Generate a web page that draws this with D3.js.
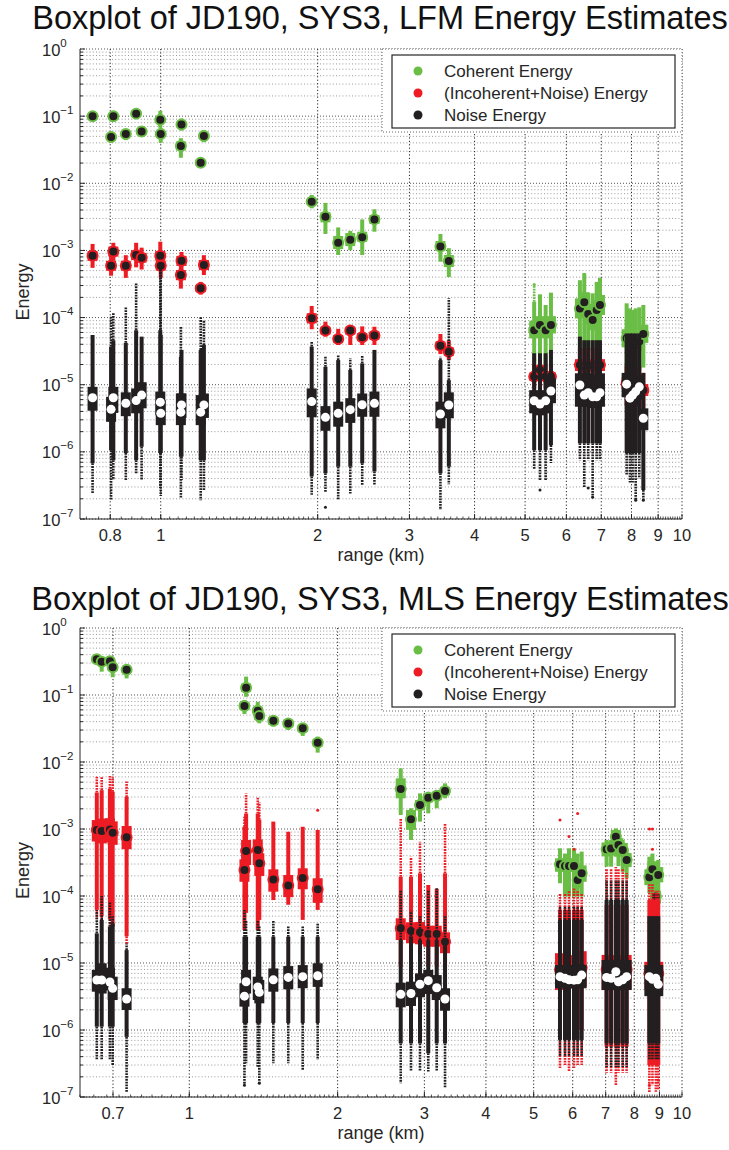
<!DOCTYPE html>
<html><head><meta charset="utf-8">
<script src="https://cdn.jsdelivr.net/npm/d3@7"></script>
<style>
body{margin:0;background:#fff}
svg{display:block}
text{font-family:"Liberation Sans",Arial,Helvetica,sans-serif;fill:#262626}
</style>
</head><body><svg id="c" width="729" height="1150"></svg>
<script>
// ---------------- DATA ----------------
const seriesNames = ["Coherent Energy", "(Incoherent+Noise) Energy", "Noise Energy"];
const seriesColors = ["#6abd45", "#ed1c24", "#231f20"];
const lfmTitle = "Boxplot of JD190, SYS3, LFM Energy Estimates";
const mlsTitle = "Boxplot of JD190, SYS3, MLS Energy Estimates";
const lfmXTicks = [0.8, 1, 2, 3, 4, 5, 6, 7, 8, 9, 10];
const mlsXTicks = [0.7, 1, 2, 3, 4, 5, 6, 7, 8, 9, 10];
const yDecades = [0, -1, -2, -3, -4, -5, -6, -7];

// box stats per box: [whiskerLo, q1, median, q3, whiskerHi, outlierLo, outlierHi]
const lfmRange = [0.740, 0.803, 0.811, 0.857, 0.897, 0.919, 0.998, 1.0, 1.093, 1.096, 1.193, 1.21,
  1.948, 2.07, 2.19, 2.31, 2.435, 2.57, 3.44, 3.57,
  5.205, 5.34, 5.475, 5.605,
  6.37, 6.494, 6.608, 6.739, 6.86, 6.96,
  7.83, 7.945, 8.04, 8.15, 8.28, 8.43];

const lfmCoherent = [
  [0.084, 0.09, 0.1, 0.111, 0.118, null, null],
  [0.040, 0.044, 0.049, 0.054, 0.058, null, null],
  [0.083, 0.09, 0.1, 0.11, 0.12, null, null],
  [0.044, 0.049, 0.054, 0.06, 0.064, null, null],
  [0.094, 0.099, 0.109, 0.12, 0.125, null, null],
  [0.049, 0.053, 0.059, 0.065, 0.07, null, null],
  [0.067, 0.079, 0.088, 0.097, 0.12, null, null],
  [0.040, 0.049, 0.054, 0.06, 0.066, null, null],
  [0.024, 0.031, 0.036, 0.042, 0.047, null, null],
  [0.061, 0.068, 0.075, 0.083, 0.092, null, null],
  [0.017, 0.0185, 0.0203, 0.0225, 0.024, null, null],
  [0.041, 0.046, 0.0506, 0.056, 0.062, null, null],
  [4.24e-3, 4.8e-3, 5.3e-3, 5.9e-3, 6.7e-3, null, null],
  [1.76e-3, 2.62e-3, 3.18e-3, 3.7e-3, 5.1e-3, null, null],
  [8.55e-4, 1.05e-3, 1.30e-3, 1.64e-3, 2.2e-3, null, null],
  [1.01e-3, 1.16e-3, 1.44e-3, 1.82e-3, 1.95e-3, null, null],
  [8.55e-4, 1.35e-3, 1.57e-3, 1.9e-3, 2.9e-3, null, null],
  [1.9e-3, 2.48e-3, 2.9e-3, 3.37e-3, 4.1e-3, null, null],
  [6.8e-4, 9.8e-4, 1.14e-3, 1.38e-3, 1.76e-3, null, null],
  [4.0e-4, 5.66e-4, 6.96e-4, 8.55e-4, 1.08e-3, null, null],
  [1.85e-5, 4.9e-5, 6.5e-5, 9.0e-5, 1.72e-4, null, 3.1e-4],
  [2.33e-5, 5.8e-5, 7.75e-5, 1.05e-4, 2.22e-4, null, null],
  [1.85e-5, 4.9e-5, 6.5e-5, 9.0e-5, 1.54e-4, null, null],
  [2.33e-5, 5.8e-5, 7.75e-5, 1.05e-4, 2.35e-4, null, null],
  [3.3e-5, 9.7e-5, 1.37e-4, 1.93e-4, 3.6e-4, null, null],
  [3.3e-5, 1.2e-4, 1.69e-4, 2.38e-4, 4.6e-4, null, null],
  [3.3e-5, 8.0e-5, 1.13e-4, 1.6e-4, 2.35e-4, null, null],
  [3.3e-5, 6.5e-5, 9.2e-5, 1.3e-4, 2.3e-4, null, null],
  [3.3e-5, 9.2e-5, 1.3e-4, 1.83e-4, 3.4e-4, null, null],
  [3.3e-5, 1.09e-4, 1.54e-4, 2.17e-4, 3.9e-4, null, null],
  [1.5e-5, 3.6e-5, 4.9e-5, 6.7e-5, 1.63e-4, null, null],
  [1.6e-5, 3.5e-5, 4.8e-5, 6.5e-5, 1.37e-4, null, null],
  [1.6e-5, 3.3e-5, 4.5e-5, 6.1e-5, 1.3e-4, null, null],
  [1.6e-5, 2.9e-5, 3.9e-5, 5.3e-5, 1.37e-4, null, null],
  [1.6e-5, 3.2e-5, 4.4e-5, 6.0e-5, 1.42e-4, null, null],
  [1.8e-5, 4.2e-5, 5.7e-5, 7.8e-5, 1.54e-4, null, null]
];

const lfmIncoherent = [
  [5.5e-4, 7.0e-4, 8.3e-4, 9.8e-4, 1.25e-3, null, null],
  [4.2e-4, 5.0e-4, 5.9e-4, 7.0e-4, 8.5e-4, null, null],
  [7.0e-4, 8.1e-4, 9.6e-4, 1.14e-3, 1.3e-3, null, null],
  [3.9e-4, 5.0e-4, 5.9e-4, 7.0e-4, 8.5e-4, null, null],
  [5.6e-4, 7.2e-4, 8.55e-4, 1.0e-3, 1.3e-3, null, null],
  [5.2e-4, 6.6e-4, 7.8e-4, 9.2e-4, 1.1e-3, null, null],
  [6.0e-4, 7.0e-4, 8.3e-4, 9.8e-4, 1.35e-3, null, null],
  [3.9e-4, 5.0e-4, 5.9e-4, 7.0e-4, 8.0e-4, null, null],
  [2.7e-4, 3.6e-4, 4.3e-4, 5.1e-4, 6.0e-4, null, null],
  [5.0e-4, 5.9e-4, 7.0e-4, 8.3e-4, 9.5e-4, null, null],
  [2.2e-4, 2.4e-4, 2.73e-4, 3.1e-4, 3.4e-4, null, null],
  [4.3e-4, 5.1e-4, 6.07e-4, 7.2e-4, 8.5e-4, null, null],
  [6.7e-5, 8.2e-5, 9.75e-5, 1.16e-4, 1.49e-4, null, null],
  [5.2e-5, 5.6e-5, 6.4e-5, 7.3e-5, 8.7e-5, null, null],
  [3.9e-5, 4.2e-5, 4.8e-5, 5.5e-5, 6.8e-5, null, null],
  [3.9e-5, 5.6e-5, 6.4e-5, 7.3e-5, 7.5e-5, null, null],
  [3.9e-5, 4.5e-5, 5.1e-5, 5.9e-5, 7.4e-5, null, null],
  [3.9e-5, 4.7e-5, 5.4e-5, 6.2e-5, 7.3e-5, null, null],
  [2.86e-5, 3.3e-5, 3.8e-5, 4.4e-5, 5.7e-5, null, null],
  [2.33e-5, 2.7e-5, 3.1e-5, 3.6e-5, 4.6e-5, null, null],
  [8.8e-6, 1.15e-5, 1.32e-5, 1.52e-5, 2.0e-5, null, null],
  [1.1e-5, 1.45e-5, 1.66e-5, 1.9e-5, 2.5e-5, null, null],
  [8.8e-6, 1.15e-5, 1.32e-5, 1.52e-5, 2.0e-5, null, null],
  [8.8e-6, 1.15e-5, 1.32e-5, 1.52e-5, 2.0e-5, null, null],
  [1.0e-5, 1.6e-5, 1.97e-5, 2.4e-5, 3.5e-5, null, null],
  [1.0e-5, 1.55e-5, 1.9e-5, 2.35e-5, 3.5e-5, null, null],
  [1.0e-5, 1.57e-5, 1.93e-5, 2.37e-5, 3.5e-5, null, null],
  [1.0e-5, 1.57e-5, 1.93e-5, 2.37e-5, 3.5e-5, null, null],
  [1.0e-5, 1.6e-5, 1.97e-5, 2.4e-5, 3.5e-5, null, null],
  [1.0e-5, 1.6e-5, 1.97e-5, 2.4e-5, 3.5e-5, null, null],
  [5.0e-6, 8.5e-6, 1.05e-5, 1.3e-5, 1.9e-5, null, null],
  [5.0e-6, 8.2e-6, 1.0e-5, 1.25e-5, 1.9e-5, null, null],
  [5.0e-6, 8.2e-6, 1.0e-5, 1.25e-5, 1.9e-5, null, null],
  [5.0e-6, 8.2e-6, 1.0e-5, 1.25e-5, 1.9e-5, null, null],
  [5.0e-6, 8.2e-6, 1.0e-5, 1.25e-5, 1.9e-5, null, null],
  [4.5e-6, 6.8e-6, 8.3e-6, 1.02e-5, 1.5e-5, null, null]
];

const lfmNoise = [
  [6.75e-7, 4.1e-6, 6.4e-6, 9.3e-6, 5.5e-5, 2.4e-7, null],
  [1.06e-6, 2.8e-6, 4.3e-6, 6.6e-6, 3.7e-5, 1.9e-7, 1.03e-4],
  [7.5e-7, 3.8e-6, 6.4e-6, 9.3e-6, 4.6e-5, 3.8e-7, 1.17e-4],
  [9.6e-7, 3.4e-6, 5.3e-6, 7.7e-6, 4.2e-5, 3.8e-7, 1.45e-4],
  [7.5e-7, 3.75e-6, 5.8e-6, 8.8e-6, 6.5e-5, 4.8e-7, 3.3e-4],
  [1.19e-6, 4.45e-6, 7.0e-6, 1.09e-5, 5.2e-5, 3.8e-7, null],
  [9.6e-7, 3.5e-6, 5.5e-6, 7.9e-6, 6.5e-5, 2.9e-7, 5.7e-4],
  [9.6e-7, 2.5e-6, 3.75e-6, 5.9e-6, 5.5e-5, 2.2e-7, 5.7e-4],
  [8.5e-7, 2.5e-6, 3.9e-6, 7.4e-6, 2.6e-5, 2.05e-7, 7.3e-5],
  [8.5e-7, 3.2e-6, 5.0e-6, 7.4e-6, 3.3e-5, 3.8e-7, null],
  [7.5e-7, 2.5e-6, 3.9e-6, 7.0e-6, 3.3e-5, 1.9e-7, 1.03e-4],
  [7.5e-7, 3.2e-6, 5.0e-6, 7.4e-6, 3.9e-5, 2.7e-7, 9.2e-5],
  [4.3e-7, 3.27e-6, 5.6e-6, 8.8e-6, 3.7e-5, 2.3e-7, 4.4e-5],
  [4.8e-7, 2.06e-6, 3.27e-6, 4.8e-6, 1.85e-5, 2.55e-7, 2.6e-5],
  [6.0e-7, 2.37e-6, 3.75e-6, 5.6e-6, 2.33e-5, 1.96e-7, 2.77e-5],
  [6.0e-7, 2.7e-6, 4.25e-6, 6.3e-6, 1.66e-5, 2.4e-7, 2.47e-5],
  [6.75e-7, 3.33e-6, 5.03e-6, 7.4e-6, 2.08e-5, 3.2e-7, 2.77e-5],
  [5.1e-7, 3.33e-6, 5.28e-6, 7.9e-6, 3.3e-5, 3.2e-7, null],
  [4.8e-7, 2.24e-6, 3.66e-6, 5.6e-6, 2.33e-5, 1.36e-7, 2.6e-5],
  [6.0e-7, 3.16e-6, 4.98e-6, 7.7e-6, 1.17e-5, 3.3e-7, 1.94e-4],
  [1.06e-6, 3.75e-6, 5.78e-6, 8.3e-6, 2.94e-5, 5.4e-7, null],
  [1.06e-6, 3.5e-6, 5.16e-6, 7.9e-6, 2.94e-5, 3.8e-7, null],
  [1.06e-6, 3.75e-6, 5.78e-6, 8.3e-6, 2.94e-5, 3.8e-7, null],
  [1.26e-6, 5.3e-6, 8.05e-6, 1.25e-5, 3.3e-5, 6.8e-7, null],
  [1.34e-6, 4.7e-6, 9.9e-6, 1.48e-5, 5.2e-5, 7.5e-7, null],
  [1.34e-6, 4.7e-6, 7.0e-6, 1.48e-5, 4.6e-5, 2.9e-7, null],
  [1.34e-6, 4.7e-6, 7.6e-6, 1.48e-5, 4.6e-5, 7.5e-7, null],
  [1.34e-6, 4.5e-6, 6.6e-6, 1.4e-5, 4.6e-5, 2.1e-7, null],
  [1.34e-6, 4.5e-6, 6.6e-6, 1.4e-5, 4.6e-5, 7.5e-7, null],
  [1.34e-6, 4.7e-6, 7.6e-6, 1.48e-5, 4.6e-5, 7.5e-7, null],
  [9.6e-7, 6.5e-6, 1.02e-5, 1.5e-5, 5.8e-5, 4.5e-7, null],
  [9.6e-7, 4.3e-6, 6.3e-6, 9.5e-6, 5.8e-5, 3.5e-7, null],
  [9.6e-7, 4.7e-6, 7.0e-6, 1.05e-5, 5.8e-5, 3.5e-7, null],
  [9.6e-7, 5.2e-6, 7.9e-6, 1.2e-5, 5.8e-5, 1.9e-7, null],
  [9.6e-7, 6.0e-6, 9.3e-6, 1.4e-5, 5.8e-5, 4.0e-7, null],
  [2.7e-7, 2.1e-6, 3.16e-6, 4.45e-6, 1.5e-5, 1.9e-7, null]
];

// isolated outliers: [range, value, seriesIndex]
const lfmIsolated = [
  [2.07, 1.5e-7, 2], [5.34, 2.7e-7, 2], [6.608, 2.9e-7, 2], [6.739, 2.1e-7, 2],
  [8.15, 1.9e-7, 2], [8.43, 1.9e-7, 2], [5.205, 3.1e-4, 0]
];

const mlsRange = [0.649, 0.664, 0.69, 0.699, 0.746,
  1.294, 1.304, 1.377, 1.387, 1.481, 1.588, 1.699, 1.822,
  2.686, 2.818, 2.939, 3.055, 3.178, 3.304,
  5.654, 5.788, 5.898, 6.036, 6.14, 6.257,
  7.03, 7.18, 7.34, 7.43, 7.58, 7.72,
  8.585, 8.71, 8.85, 8.95];

const mlsCoherent = [
  [0.29, 0.31, 0.341, 0.37, 0.38, null, null],
  [0.223, 0.29, 0.314, 0.34, 0.35, null, null],
  [0.27, 0.29, 0.32, 0.35, 0.36, null, null],
  [0.184, 0.23, 0.259, 0.29, 0.31, null, null],
  [0.177, 0.215, 0.239, 0.26, 0.27, null, null],
  [0.052, 0.06, 0.0685, 0.078, 0.084, null, null],
  [0.094, 0.112, 0.1285, 0.148, 0.188, null, null],
  [0.05, 0.051, 0.0583, 0.067, 0.079, null, null],
  [0.0378, 0.042, 0.0486, 0.056, 0.06, null, null],
  [0.034, 0.036, 0.0413, 0.047, 0.048, null, null],
  [0.030, 0.033, 0.0377, 0.043, 0.045, null, null],
  [0.0245, 0.028, 0.0318, 0.036, 0.037, null, null],
  [0.0138, 0.017, 0.0194, 0.022, 0.0239, null, null],
  [1.62e-3, 2.87e-3, 3.95e-3, 5.7e-3, 8.05e-3, null, null],
  [6.85e-4, 9.7e-4, 1.4e-3, 1.92e-3, 2.04e-3, null, null],
  [1.29e-3, 1.9e-3, 2.28e-3, 2.7e-3, 3.4e-3, null, null],
  [1.71e-3, 2.5e-3, 2.93e-3, 3.4e-3, 3.6e-3, null, null],
  [2.04e-3, 2.7e-3, 3.14e-3, 3.6e-3, 3.8e-3, null, null],
  [2.87e-3, 3.2e-3, 3.69e-3, 4.2e-3, 4.8e-3, null, null],
  [1.55e-4, 2.3e-4, 2.97e-4, 3.65e-4, 5.15e-4, null, null],
  [9.8e-5, 2.3e-4, 2.8e-4, 3.65e-4, 4.3e-4, null, null],
  [9.8e-5, 2.3e-4, 2.8e-4, 3.65e-4, 5.15e-4, null, null],
  [9.8e-5, 2.3e-4, 2.8e-4, 3.65e-4, 5.15e-4, null, null],
  [9.8e-5, 1.3e-4, 1.73e-4, 2.4e-4, 4.3e-4, null, null],
  [9.8e-5, 1.63e-4, 2.18e-4, 2.86e-4, 4.6e-4, null, null],
  [2.74e-4, 3.9e-4, 4.98e-4, 6.3e-4, 6.85e-4, null, null],
  [2.74e-4, 4.0e-4, 5.1e-4, 6.5e-4, 6.85e-4, null, null],
  [3.86e-4, 6.0e-4, 7.67e-4, 9.7e-4, 1.02e-3, null, null],
  [2.8e-4, 4.5e-4, 5.77e-4, 7.3e-4, 8.1e-4, null, null],
  [2.3e-4, 3.8e-4, 4.86e-4, 6.2e-4, 6.85e-4, null, null],
  [1.84e-4, 2.7e-4, 3.45e-4, 4.4e-4, 5.15e-4, null, null],
  [1.1e-4, 1.45e-4, 1.9e-4, 2.5e-4, 3.86e-4, null, null],
  [1.1e-4, 1.9e-4, 2.5e-4, 3.3e-4, 4.3e-4, null, null],
  [5.0e-5, 7.7e-5, 9.8e-5, 1.2e-4, 2.18e-4, null, null],
  [1.1e-4, 1.6e-4, 2.06e-4, 2.7e-4, 3.45e-4, null, null]
];

const mlsIncoherent = [
  [6.2e-5, 6.5e-4, 9.66e-4, 1.36e-3, 3.5e-3, 4.5e-5, 6.0e-3],
  [5.0e-5, 6.1e-4, 9.3e-4, 1.43e-3, 3.8e-3, 3.5e-5, 6.0e-3],
  [4.5e-5, 6.3e-4, 9.8e-4, 1.45e-3, 4.0e-3, 3.0e-5, 6.2e-3],
  [3.5e-5, 5.8e-4, 8.8e-4, 1.3e-3, 3.6e-3, 2.4e-5, 6.0e-3],
  [2.5e-5, 5.0e-4, 7.5e-4, 1.11e-3, 3.0e-3, 1.9e-5, 5.1e-3],
  [3.1e-5, 1.63e-4, 2.44e-4, 3.53e-4, 1.08e-3, null, 1.53e-3],
  [5.6e-5, 2.9e-4, 4.7e-4, 6.85e-4, 1.7e-3, null, 3.4e-3],
  [3.1e-5, 2.9e-4, 4.86e-4, 7.0e-4, 1.7e-3, null, 3.0e-3],
  [4.4e-5, 1.99e-4, 3.08e-4, 4.34e-4, 1.38e-3, null, 2.5e-3],
  [8.7e-5, 1.16e-4, 1.77e-4, 2.5e-4, 1.29e-3, null, null],
  [7.4e-5, 9.6e-5, 1.43e-4, 2.06e-4, 9.1e-4, null, null],
  [4.4e-5, 1.26e-4, 1.86e-4, 2.59e-4, 1.08e-3, null, null],
  [6.2e-5, 7.9e-5, 1.26e-4, 1.84e-4, 9.7e-4, null, null],
  [8.8e-6, 2.2e-5, 3.3e-5, 4.65e-5, 1.94e-4, null, 1.44e-3],
  [8.8e-6, 1.97e-5, 3.0e-5, 4.05e-5, 1.94e-4, null, 3.86e-4],
  [8.8e-6, 1.9e-5, 2.87e-5, 4.1e-5, 2.18e-4, null, 6.46e-4],
  [8.8e-6, 1.75e-5, 2.7e-5, 3.6e-5, 1.46e-4, null, null],
  [8.8e-6, 1.75e-5, 2.7e-5, 3.6e-5, 1.28e-4, null, null],
  [8.8e-6, 1.4e-5, 2.08e-5, 2.87e-5, 2.18e-4, null, 1.22e-3],
  [1.0e-6, 3.95e-6, 7.9e-6, 1.4e-5, 6.2e-5, 2.7e-7, 1.1e-4],
  [1.0e-6, 4.2e-6, 8.0e-6, 1.3e-5, 6.2e-5, 3.0e-7, 1.1e-4],
  [1.0e-6, 4.2e-6, 8.0e-6, 1.3e-5, 6.2e-5, 2.4e-7, 1.2e-4],
  [1.0e-6, 4.2e-6, 7.5e-6, 1.3e-5, 6.2e-5, 2.7e-7, 1.3e-4],
  [1.0e-6, 4.2e-6, 8.0e-6, 1.3e-5, 6.2e-5, 3.0e-7, 1.2e-4],
  [1.0e-6, 4.5e-6, 8.5e-6, 1.5e-5, 6.2e-5, 3.0e-7, 1.1e-4],
  [5.6e-7, 3.95e-6, 8.0e-6, 1.32e-5, 7.4e-5, 2.3e-7, 2.5e-4],
  [5.6e-7, 3.95e-6, 8.0e-6, 1.3e-5, 7.4e-5, 2.3e-7, 2.5e-4],
  [5.6e-7, 3.95e-6, 8.5e-6, 1.3e-5, 7.4e-5, 1.5e-7, 2.7e-4],
  [5.6e-7, 3.95e-6, 8.0e-6, 1.3e-5, 7.4e-5, 2.3e-7, 2.5e-4],
  [5.6e-7, 3.95e-6, 8.0e-6, 1.3e-5, 7.4e-5, 2.3e-7, 2.5e-4],
  [5.6e-7, 4.0e-6, 8.0e-6, 1.32e-5, 7.4e-5, 2.3e-7, 2.2e-4],
  [3.0e-7, 3.95e-6, 7.0e-6, 1.04e-5, 8.7e-5, 1.15e-7, 1.5e-4],
  [3.0e-7, 3.95e-6, 7.0e-6, 1.04e-5, 8.7e-5, 1.5e-7, 1.5e-4],
  [3.0e-7, 3.95e-6, 7.0e-6, 1.04e-5, 8.7e-5, 1.2e-7, 1.2e-4],
  [3.0e-7, 3.95e-6, 7.0e-6, 1.04e-5, 8.7e-5, 1.3e-7, 1.2e-4]
];

const mlsNoise = [
  [1.12e-6, 3.73e-6, 5.57e-6, 7.9e-6, 2.77e-5, 3.56e-7, 6.2e-5],
  [1.12e-6, 3.5e-6, 5.57e-6, 9.9e-6, 4.4e-5, 3.56e-7, 1.0e-4],
  [1.12e-6, 3.9e-6, 5.2e-6, 8.5e-6, 3.5e-5, 3.56e-7, 8.0e-5],
  [1.12e-6, 2.8e-6, 4.19e-6, 6.25e-6, 3.9e-5, 3.0e-7, 5.0e-5],
  [7.9e-7, 1.99e-6, 2.9e-6, 4.2e-6, 1.56e-5, 1.2e-7, 1.95e-5],
  [1.27e-6, 2.23e-6, 3.2e-6, 4.98e-6, 2.47e-5, 1.5e-7, 6.2e-5],
  [1.27e-6, 3.5e-6, 5.26e-6, 7.9e-6, 2.47e-5, 3.2e-7, 4.4e-5],
  [1.27e-6, 2.8e-6, 4.4e-6, 6.25e-6, 2.47e-5, 2.8e-7, 4.4e-5],
  [1.27e-6, 2.5e-6, 3.65e-6, 5.6e-6, 2.47e-5, 1.6e-7, 3.5e-5],
  [1.27e-6, 3.73e-6, 5.6e-6, 8.3e-6, 2.47e-5, 3.2e-7, 4.4e-5],
  [1.27e-6, 4.05e-6, 6.1e-6, 9.0e-6, 2.47e-5, 3.2e-7, 3.5e-5],
  [1.27e-6, 4.2e-6, 6.25e-6, 9.3e-6, 2.47e-5, 2.5e-7, 3.5e-5],
  [1.27e-6, 4.4e-6, 6.46e-6, 9.9e-6, 2.47e-5, 3.6e-7, 4.0e-5],
  [6.3e-7, 2.18e-6, 3.41e-6, 5.08e-6, 2.2e-5, 1.6e-7, 1.2e-4],
  [6.3e-7, 2.28e-6, 3.5e-6, 5.26e-6, 2.5e-5, 2.4e-7, 6.0e-5],
  [6.3e-7, 3.08e-6, 4.81e-6, 7.0e-6, 2.2e-5, 2.4e-7, 5.0e-5],
  [4.5e-7, 3.44e-6, 5.45e-6, 7.9e-6, 2.2e-5, 2.4e-7, 1.2e-4],
  [6.3e-7, 2.8e-6, 4.28e-6, 6.6e-6, 2.2e-5, 2.4e-7, 1.3e-4],
  [6.3e-7, 1.94e-6, 2.9e-6, 4.2e-6, 2.2e-5, 1.37e-7, 5.0e-5],
  [7.1e-7, 4.2e-6, 6.25e-6, 9.3e-6, 4.4e-5, 4.0e-7, 7.0e-5],
  [7.1e-7, 4.2e-6, 5.9e-6, 9.3e-6, 4.4e-5, 4.0e-7, 7.0e-5],
  [7.1e-7, 4.2e-6, 5.6e-6, 9.3e-6, 4.4e-5, 4.0e-7, 7.0e-5],
  [7.1e-7, 4.2e-6, 5.55e-6, 9.3e-6, 4.4e-5, 4.0e-7, 7.0e-5],
  [7.1e-7, 4.2e-6, 5.6e-6, 9.3e-6, 4.4e-5, 4.0e-7, 7.0e-5],
  [7.1e-7, 4.2e-6, 6.6e-6, 9.3e-6, 4.4e-5, 4.0e-7, 7.0e-5],
  [6.3e-7, 3.95e-6, 6.1e-6, 1.11e-5, 8.7e-5, 2.8e-7, 1.74e-4],
  [6.3e-7, 3.95e-6, 5.9e-6, 1.11e-5, 8.7e-5, 2.8e-7, 1.74e-4],
  [6.3e-7, 3.95e-6, 7.4e-6, 1.11e-5, 8.7e-5, 2.8e-7, 1.74e-4],
  [6.3e-7, 3.95e-6, 5.26e-6, 1.11e-5, 8.7e-5, 2.8e-7, 1.74e-4],
  [6.3e-7, 3.95e-6, 5.6e-6, 1.11e-5, 8.7e-5, 2.8e-7, 1.74e-4],
  [6.3e-7, 3.95e-6, 6.25e-6, 1.11e-5, 8.7e-5, 2.8e-7, 1.74e-4],
  [6.3e-7, 3.2e-6, 6.25e-6, 9.3e-6, 5.0e-5, 3.6e-7, null],
  [6.3e-7, 3.2e-6, 5.7e-6, 9.3e-6, 5.0e-5, 3.6e-7, null],
  [6.3e-7, 3.2e-6, 5.9e-6, 9.3e-6, 5.0e-5, 3.6e-7, null],
  [6.3e-7, 3.2e-6, 4.8e-6, 9.3e-6, 5.0e-5, 3.6e-7, null]
];

const mlsIsolated = [
  [1.822, 1.9e-3, 1], [5.654, 1.36e-3, 1], [6.14, 1.71e-3, 1], [5.898, 7.7e-4, 1],
  [6.036, 5.0e-4, 1], [8.585, 1.0e-3, 1], [8.71, 1.0e-3, 1], [8.71, 5.0e-4, 1],
  [1.294, 1.5e-7, 2], [1.387, 1.6e-7, 2], [8.585, 1.5e-7, 1], [8.95, 1.8e-7, 1]
];

// ---------------- DRAWING ----------------
const svg = d3.select("#c");
const L = 80, R = 682;

function drawChart(cfg) {
  const g = svg.append("g");
  const x = d3.scaleLog().domain(cfg.xDomain).range([L, R]);
  const y = d3.scaleLog().domain([1e-7, 1]).range([cfg.bottom, cfg.top]);

  // title
  g.append("text").attr("x", 380).attr("y", cfg.top - cfg.titleOff)
    .attr("text-anchor", "middle").attr("font-size", 32.5)
    .style("fill", "#111").text(cfg.title);

  // horizontal grid
  const minorY = [];
  yDecades.forEach(k => { if (k < 0) for (let m = 2; m <= 9; m++) minorY.push(m * Math.pow(10, k)); });
  g.append("g").selectAll("line").data(minorY).join("line")
    .attr("x1", L).attr("x2", R).attr("y1", d => y(d)).attr("y2", d => y(d))
    .attr("stroke", "#9a9a9a").attr("stroke-width", 1).attr("stroke-dasharray", "1,2.2");
  g.append("g").selectAll("line").data(yDecades).join("line")
    .attr("x1", L).attr("x2", R).attr("y1", d => y(Math.pow(10, d))).attr("y2", d => y(Math.pow(10, d)))
    .attr("stroke", "#555").attr("stroke-width", 1).attr("stroke-dasharray", "1,2");
  // vertical grid
  g.append("g").selectAll("line").data(cfg.xTicks).join("line")
    .attr("x1", d => x(d)).attr("x2", d => x(d)).attr("y1", cfg.top).attr("y2", cfg.bottom)
    .attr("stroke", "#222").attr("stroke-width", 1).attr("stroke-dasharray", "1.2,2.2");

  // boxes
  const data = [cfg.coh, cfg.inc, cfg.noise];
  data.forEach((stats, si) => {
    const color = seriesColors[si];
    const sg = g.append("g");
    cfg.ranges.forEach((r, i) => {
      const [wlo, q1, med, q3, whi, olo, ohi] = stats[i];
      const cx = x(r);
      if (ohi) sg.append("line").attr("x1", cx).attr("x2", cx).attr("y1", y(whi)).attr("y2", y(ohi))
        .attr("stroke", color).attr("stroke-width", 2.6).attr("stroke-dasharray", "1.8,1");
      if (olo) sg.append("line").attr("x1", cx).attr("x2", cx).attr("y1", y(wlo)).attr("y2", y(olo))
        .attr("stroke", color).attr("stroke-width", 2.6).attr("stroke-dasharray", "1.8,1");
      sg.append("line").attr("x1", cx).attr("x2", cx).attr("y1", y(wlo)).attr("y2", y(whi))
        .attr("stroke", color).attr("stroke-width", 4);
      sg.append("rect").attr("x", cx - 5).attr("width", 10)
        .attr("y", y(q3)).attr("height", Math.max(1, y(q1) - y(q3))).attr("fill", color);
    });
    cfg.isolated.filter(d => d[2] === si).forEach(d => {
      sg.append("circle").attr("cx", x(d[0])).attr("cy", y(d[1])).attr("r", 1.5).attr("fill", color);
    });
    cfg.ranges.forEach((r, i) => {
      const med = stats[i][2];
      const cx = x(r);
      if (si < 2) {
        sg.append("circle").attr("cx", cx).attr("cy", y(med)).attr("r", 5)
          .attr("fill", "#231f20").attr("stroke", color).attr("stroke-width", 2);
      } else {
        sg.append("circle").attr("cx", cx).attr("cy", y(med)).attr("r", 4.5).attr("fill", "#fff");
      }
    });
  });

  // axes lines
  const ax = g.append("g");
  ax.append("line").attr("x1", L).attr("x2", L).attr("y1", cfg.top).attr("y2", cfg.bottom)
    .attr("stroke", "#262626").attr("stroke-width", 1);
  ax.append("line").attr("x1", L).attr("x2", R).attr("y1", cfg.bottom).attr("y2", cfg.bottom)
    .attr("stroke", "#262626").attr("stroke-width", 1);
  // y ticks
  ax.selectAll(".ymaj").data(yDecades).join("line")
    .attr("x1", L).attr("x2", L + 5).attr("y1", d => y(Math.pow(10, d))).attr("y2", d => y(Math.pow(10, d)))
    .attr("stroke", "#262626");
  ax.selectAll(".ymin").data(minorY).join("line")
    .attr("x1", L).attr("x2", L + 3).attr("y1", d => y(d)).attr("y2", d => y(d))
    .attr("stroke", "#262626");
  // x minor ticks
  const xMinor = d3.range(0.6, 2, 0.04).concat(d3.range(2, 10, 0.1)).filter(v => v >= cfg.xDomain[0] && v <= 10);
  ax.selectAll(".xmin").data(xMinor).join("line")
    .attr("x1", d => x(d)).attr("x2", d => x(d)).attr("y1", cfg.bottom).attr("y2", cfg.bottom - 2.5)
    .attr("stroke", "#262626").attr("stroke-width", 0.8);
  ax.selectAll(".xmaj").data(cfg.xTicks).join("line")
    .attr("x1", d => x(d)).attr("x2", d => x(d)).attr("y1", cfg.bottom).attr("y2", cfg.bottom - 5)
    .attr("stroke", "#262626");
  // x labels
  ax.selectAll(".xl").data(cfg.xTicks).join("text")
    .attr("x", d => x(d)).attr("y", cfg.bottom + 22).attr("text-anchor", "middle")
    .attr("font-size", 16.5).text(d => d);
  // y labels
  yDecades.forEach(k => {
    const t = ax.append("text").attr("x", 42).attr("y", y(Math.pow(10, k)) + 6.5).attr("font-size", 16.5);
    t.append("tspan").text("10");
    t.append("tspan").attr("font-size", 11.5).attr("dy", -9).text(k === 0 ? "0" : "\u2212" + (-k));
  });
  // axis titles
  ax.append("text").attr("x", (L + R) / 2).attr("y", cfg.bottom + 42).attr("text-anchor", "middle")
    .attr("font-size", 18).text("range (km)");
  const cy = (cfg.top + cfg.bottom) / 2 + 8;
  ax.append("text").attr("transform", `translate(29,${cy}) rotate(-90)`).attr("text-anchor", "middle")
    .attr("font-size", 18).text("Energy");

  // legend
  const lg = g.append("g");
  const lt = cfg.top;
  lg.append("rect").attr("x", 382).attr("y", lt).attr("width", 300).attr("height", 83)
    .attr("fill", "#fff").attr("stroke", "#666").attr("stroke-width", 1).attr("stroke-dasharray", "1,2");
  lg.append("rect").attr("x", 392).attr("y", lt + 6).attr("width", 283).attr("height", 73)
    .attr("fill", "#fff").attr("stroke", "#262626").attr("stroke-width", 1.2);
  seriesNames.forEach((nm, i) => {
    const yy = lt + 22 + i * 22;
    lg.append("circle").attr("cx", 418).attr("cy", yy).attr("r", 4.5).attr("fill", seriesColors[i]);
    lg.append("text").attr("x", 444).attr("y", yy + 6).attr("font-size", 17).text(nm);
  });
}

drawChart({
  title: lfmTitle, top: 49, bottom: 519, titleOff: 20, xDomain: [0.7, 10], xTicks: lfmXTicks,
  ranges: lfmRange, coh: lfmCoherent, inc: lfmIncoherent, noise: lfmNoise, isolated: lfmIsolated
});
drawChart({
  title: mlsTitle, top: 628, bottom: 1097, titleOff: 18, xDomain: [0.6, 10], xTicks: mlsXTicks,
  ranges: mlsRange, coh: mlsCoherent, inc: mlsIncoherent, noise: mlsNoise, isolated: mlsIsolated
});
</script>
</body></html>
